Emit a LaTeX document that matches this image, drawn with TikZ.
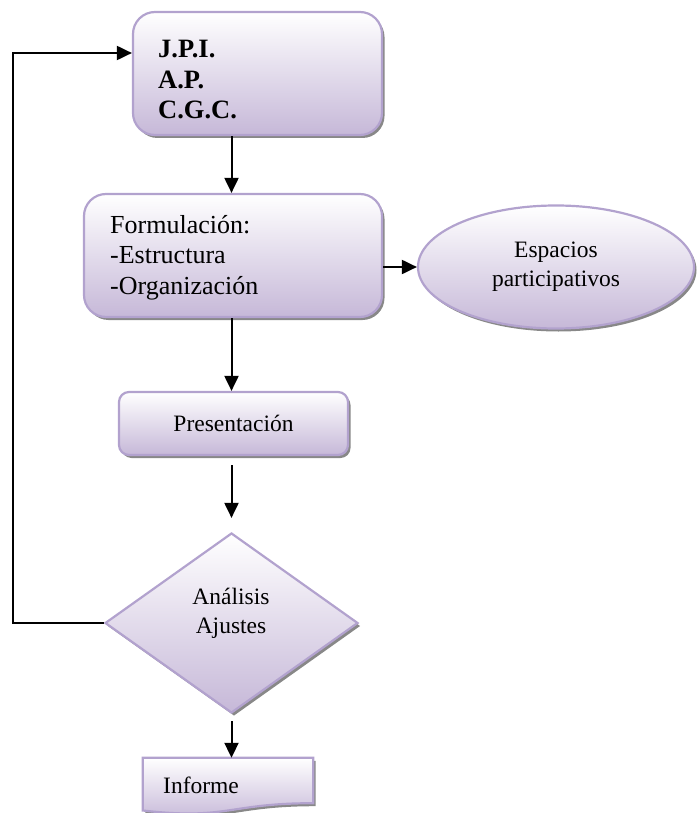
\documentclass[tikz,border=0pt]{standalone}
\usepackage{fontspec}
\setmainfont{Liberation Serif}
\usetikzlibrary{arrows.meta,shapes.geometric,shadows}

\definecolor{lavline}{HTML}{B2A2CE}
\definecolor{lavbot}{HTML}{C6B8D8}

\tikzset{
  flowbox/.style={draw=lavline, line width=2.2pt, top color=white, bottom color=lavbot,
    inner sep=0pt,
    drop shadow={shadow xshift=2.5pt, shadow yshift=-3pt, fill=black!55, opacity=0.85}},
  bigtxt/.style={font=\fontsize{26.5}{30.5}\selectfont, inner sep=0pt, align=left},
  smalltxt/.style={font=\fontsize{23.5}{29}\selectfont, inner sep=0pt, align=center},
  link/.style={line width=2pt, -{Triangle[length=15pt, width=14pt]}}
}

\begin{document}
\begin{tikzpicture}[x=1pt, y=-1pt]
  \useasboundingbox (0,0) rectangle (696,813);

  % boxes of the flow
  \node[flowbox, rounded corners=22pt, minimum width=249pt, minimum height=123pt]
    (top) at (257.5,73.5) {};
  \node[bigtxt, font=\fontsize{26.5}{30.5}\selectfont\bfseries, anchor=west]
    (toptxt) at (158,80) {J.P.I.\\A.P.\\C.G.C.};

  \node[flowbox, rounded corners=22pt, minimum width=298pt, minimum height=123pt]
    (form) at (233,255.5) {};
  \node[bigtxt, font=\fontsize{26}{30.5}\selectfont, anchor=west]
    (formtxt) at (110,257.5) {Formulación:\\-Estructura\\-Organización};

  \node[flowbox, ellipse, minimum width=276pt, minimum height=123pt, smalltxt]
    (ell) at (556,267) {Espacios\\participativos};

  \node[flowbox, rounded corners=10pt, minimum width=229pt, minimum height=63pt, smalltxt]
    (pres) at (233.5,423.5) {Presentación};

  \node[flowbox, diamond, minimum width=253pt, minimum height=180pt]
    (dia) at (231.5,623) {};
  \node[smalltxt] (diatxt) at (231,613.5) {Análisis\\Ajustes};

  % document shape with a wavy lower edge
  \node[minimum width=170pt, minimum height=56pt, inner sep=0pt] (inf) at (228,786) {};
  \path[flowbox] (inf.north west) -- (inf.north east) -- ([yshift=11pt]inf.south east)
    .. controls ([yshift=11pt]inf.south) and ([yshift=-6pt]inf.south) ..
    ([yshift=3.7pt]inf.south west) -- cycle;
  \node[smalltxt, anchor=west] (inftxt) at (163,785) {Informe};

  % connectors
  \coordinate (fbx) at (13,53);
  \draw[link] (top.south -| dia) -- (form.north -| dia);
  \draw[link] (form.east |- ell.west) -- (ell.west);
  \draw[link] (form.south -| dia) -- (pres.north -| dia);
  \draw[link, shorten <=9pt, shorten >=14pt] (pres.south -| dia) -- (dia.north);
  \draw[link, shorten <=7pt] (dia.south) -- (inf.north -| dia);
  \draw[link] (dia.west) -| (fbx) -- (top.west |- fbx);
\end{tikzpicture}
\end{document}
